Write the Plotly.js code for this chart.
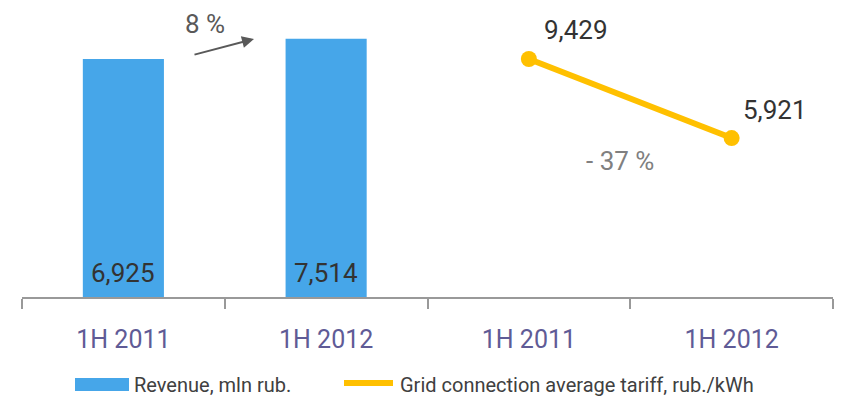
<!DOCTYPE html>
<html>
<head>
<meta charset="utf-8">
<script src="https://cdn.plot.ly/plotly-3.0.1.min.js"></script>
<style>html,body{margin:0;padding:0;background:#fff;}#chart{width:851px;height:400px;}</style>
</head>
<body>
<div id="chart"></div>
<script>
// ---- data ----
const categories = ["1H 2011", "1H 2012", "1H 2011", "1H 2012"];
const revenueName = "Revenue, mln rub.";
const revenuePos = [0, 1];
const revenueValues = [6925, 7514];
const tariffName = "Grid connection average tariff, rub./kWh";
const tariffPos = [2, 3];
const tariffValues = [9429, 5921];
const revenueChange = "8 %";
const tariffChange = "- 37 %";

const FONT = "Roboto, 'Liberation Sans', sans-serif";
const fmt = v => v.toLocaleString('en-US');

// plot geometry (pixels)
const W = 851, H = 400, L = 22, R = 18, T = 20, B = 103;
const pw = W - L - R, ph = H - T - B;
const px = x => (x - L) / pw;
const py = y => (H - B - y) / ph;

const traces = [
  {
    type: 'bar', x: revenuePos, y: revenueValues, name: revenueName,
    width: 0.4,
    marker: {color: '#46a6e9'},
    cliponaxis: false, hoverinfo: 'skip'
  },
  {
    type: 'scatter', mode: 'lines+markers', x: tariffPos, y: tariffValues, name: tariffName,
    yaxis: 'y2',
    line: {color: '#ffc000', width: 6},
    marker: {color: '#ffc000', size: 16},
    cliponaxis: false, hoverinfo: 'skip'
  }
];

const annotations = [];
// bar value labels (inside, near the base)
revenuePos.forEach((x, i) => annotations.push({
  xref: 'x', yref: 'y', x: x, y: 0, text: fmt(revenueValues[i]), showarrow: false,
  xanchor: 'center', yanchor: 'bottom', yshift: 7,
  font: {family: FONT, size: 26, color: '#333333'}
}));
// line value labels
const lineShift = [[13, 12], [9, 11]];
tariffPos.forEach((x, i) => annotations.push({
  xref: 'x', yref: 'y2', x: x, y: tariffValues[i], text: fmt(tariffValues[i]), showarrow: false,
  xanchor: 'left', yanchor: 'bottom', xshift: lineShift[i][0], yshift: lineShift[i][1],
  font: {family: FONT, size: 26, color: '#333333'}
}));
annotations.push(
  {xref: 'paper', yref: 'paper', x: px(205), y: py(24), xanchor: 'center', yanchor: 'middle',
   text: revenueChange, showarrow: false,
   font: {family: FONT, size: 26, color: '#595959'}},
  {xref: 'paper', yref: 'paper', x: px(620), y: py(161), xanchor: 'center', yanchor: 'middle',
   text: tariffChange, showarrow: false,
   font: {family: FONT, size: 26, color: '#808080'}},
  {xref: 'paper', yref: 'paper', x: px(254), y: py(39), text: '', showarrow: true,
   ax: 193 - 254, ay: 55 - 39, arrowhead: 2, arrowsize: 1.2, arrowwidth: 2, arrowcolor: '#595959'},
  // legend texts
  {xref: 'paper', yref: 'paper', x: px(132), y: py(385), text: revenueName, showarrow: false,
   xanchor: 'left', yanchor: 'middle', font: {family: FONT, size: 20, color: '#404040'}},
  {xref: 'paper', yref: 'paper', x: px(398), y: py(385), text: tariffName, showarrow: false,
   xanchor: 'left', yanchor: 'middle', font: {family: FONT, size: 20, color: '#404040'}}
);

const shapes = [
  {type: 'rect', xref: 'paper', yref: 'paper', x0: px(75), x1: px(129), y0: py(391), y1: py(378),
   fillcolor: '#46a6e9', line: {width: 0}},
  {type: 'line', xref: 'paper', yref: 'paper', x0: px(344), x1: px(393), y0: py(383), y1: py(383),
   line: {color: '#ffc000', width: 6}}
];

const layout = {
  width: W, height: H,
  margin: {l: L, r: R, t: T, b: B, pad: 0},
  paper_bgcolor: '#ffffff', plot_bgcolor: '#ffffff',
  showlegend: false,
  xaxis: {
    range: [-0.5, 3.5], tickmode: 'array', tickvals: [0, 1, 2, 3], ticktext: categories,
    ticks: 'outside', ticklen: 19, tickcolor: 'rgba(0,0,0,0)',
    tickfont: {family: FONT, size: 25, color: '#5f5b96'},
    showline: true, linecolor: '#999999', linewidth: 2,
    showgrid: false, zeroline: false,
    minor: {tickmode: 'linear', tick0: 0.5, dtick: 1, ticks: 'outside', ticklen: 10, tickcolor: '#999999', tickwidth: 2, showgrid: false}
  },
  yaxis: {range: [0, 8061], visible: false, showgrid: false, zeroline: false},
  yaxis2: {range: [-1137, 11162], overlaying: 'y', side: 'right', visible: false, showgrid: false, zeroline: false},
  annotations: annotations,
  shapes: shapes
};

Plotly.newPlot('chart', traces, layout, {displayModeBar: false, staticPlot: true});
</script>
</body>
</html>
